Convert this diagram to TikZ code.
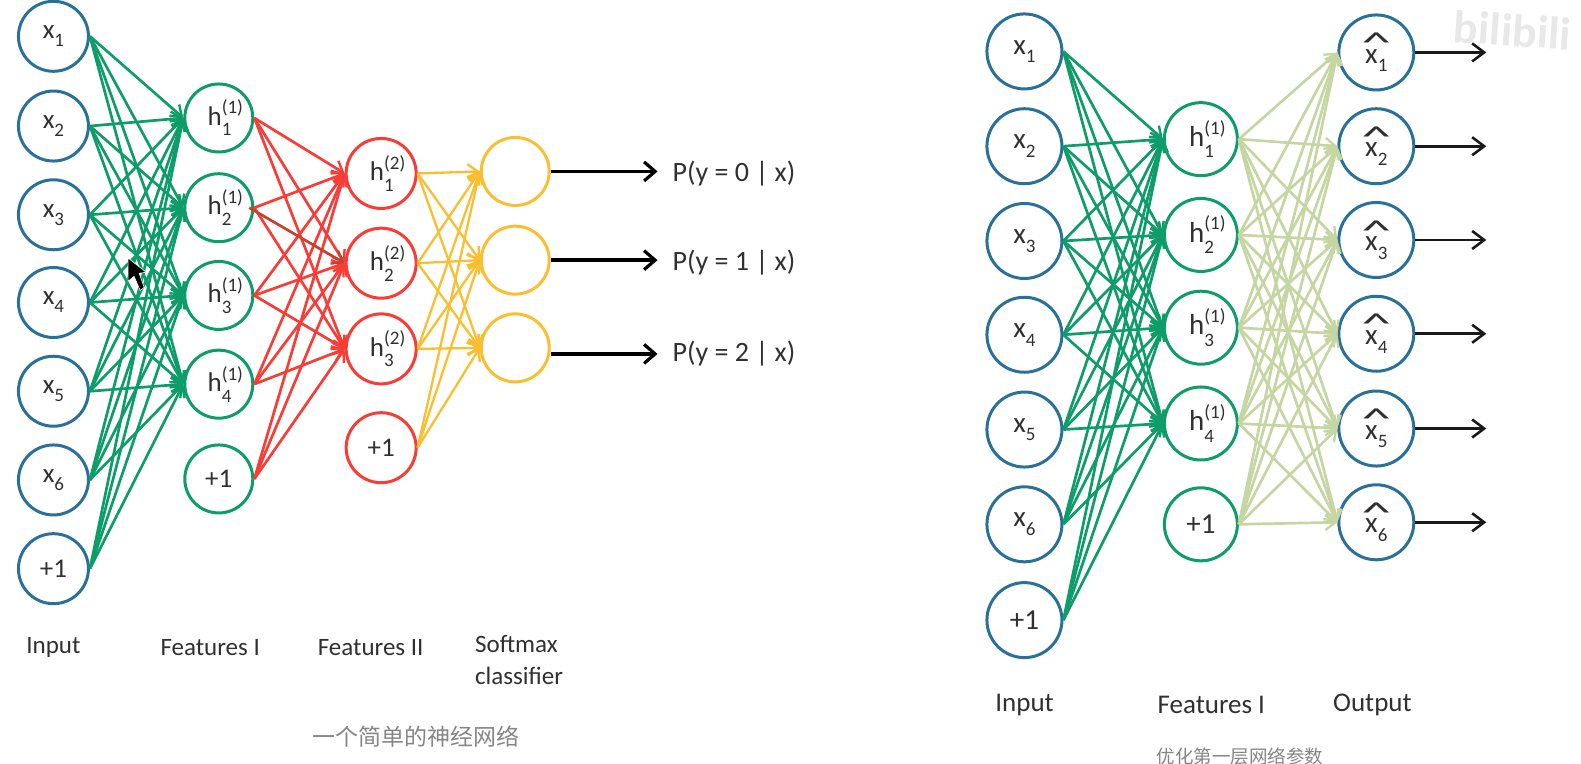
\documentclass[tikz,border=0pt]{standalone}
\usepackage{fontspec}
\usepackage{graphicx}
\setmainfont{Carlito}
\newfontfamily\cjk{Noto Sans CJK SC}
\usetikzlibrary{arrows.meta}
\definecolor{cblue}{HTML}{2A7199}
\definecolor{cgreen}{HTML}{0E9C68}
\definecolor{cred}{HTML}{FA3C36}
\definecolor{cdred}{HTML}{C8402F}
\definecolor{corange}{HTML}{FBBE30}
\definecolor{colive}{HTML}{C6D6A2}
\definecolor{ctext}{HTML}{303030}
\newcommand{\subf}{\fontsize{19}{19}\selectfont}
\newcommand{\xlab}[1]{x\raisebox{-0.3em}{\subf #1}}
\newcommand{\hlab}[2]{\hspace{13pt}h\raisebox{-0.4em}{\rlap{\subf #2}}\raisebox{0.42em}{\subf (#1)}}
\newcommand{\xhlab}[1]{\rlap{\raisebox{0.36em}{\hspace{-0.14em}\scalebox{2.1}[1.0]{\^{}}}}x\raisebox{-0.3em}{\subf #1}}
\tikzset{
  x=1.0083pt,y=-1.0083pt,
  neuron/.style={circle,draw,fill=white,line width=3pt,inner sep=0pt,text=ctext,font=\fontsize{27}{27}\selectfont},
  lnode/.style={neuron,minimum size=68pt},
  lnodeb/.style={neuron,minimum size=70pt},
  rnode/.style={neuron,minimum size=73pt,font=\fontsize{29}{29}\selectfont},
  rnodeb/.style={neuron,minimum size=75pt,font=\fontsize{29}{29}\selectfont},
  edge/.style={line width=2.7pt,-{Straight Barb[length=10pt,width=15pt,line width=2.4pt]}},
  blackarrow/.style={line width=3.8pt,color=black,-{Straight Barb[length=11pt,width=19pt,line width=3.2pt]}},
  thinblack/.style={line width=2.8pt,color=black!90,-{Straight Barb[length=12pt,width=18pt,line width=2.6pt]}},
  leftcap/.style={text=ctext,font=\fontsize{25}{32}\selectfont,anchor=west,inner sep=0pt,align=left},
  rightcap/.style={text=ctext,font=\fontsize{27}{30}\selectfont,anchor=west,inner sep=0pt},
  plabel/.style={text=ctext,font=\fontsize{28}{30}\selectfont,anchor=west,inner sep=0pt},
  note/.style={text=black!48,anchor=west,inner sep=0pt},
}
\begin{document}
\begin{tikzpicture}
\useasboundingbox (0,0) rectangle (1568,757.7);
% watermark
\node[text=black!9,font=\fontsize{46}{46}\selectfont\bfseries,rotate=-4,inner sep=0pt] (wm) at (1500,30) {bilibili};
% ---- left network nodes
\node[lnodeb,draw=cblue] (ax1) at (53,36) {\xlab{1}};
\node[lnodeb,draw=cblue] (ax2) at (53,125) {\xlab{2}};
\node[lnodeb,draw=cblue] (ax3) at (53,213) {\xlab{3}};
\node[lnodeb,draw=cblue] (ax4) at (53,300) {\xlab{4}};
\node[lnodeb,draw=cblue] (ax5) at (53,388) {\xlab{5}};
\node[lnodeb,draw=cblue] (ax6) at (53,476) {\xlab{6}};
\node[lnodeb,draw=cblue] (ax7) at (53,564) {+1};
\node[lnode,draw=cgreen] (ah1) at (217,117) {\hlab{1}{1}};
\node[lnode,draw=cgreen] (ah2) at (217,206) {\hlab{1}{2}};
\node[lnode,draw=cgreen] (ah3) at (217,293) {\hlab{1}{3}};
\node[lnode,draw=cgreen] (ah4) at (217,381) {\hlab{1}{4}};
\node[lnode,draw=cgreen] (ah5) at (217,475) {+1};
\node[lnodeb,draw=cred] (bh1) at (378,172) {\hlab{2}{1}};
\node[lnodeb,draw=cred] (bh2) at (378,261) {\hlab{2}{2}};
\node[lnodeb,draw=cred] (bh3) at (378,346) {\hlab{2}{3}};
\node[lnodeb,draw=cred] (bh4) at (378,444) {+1};
\node[lnode,draw=corange] (s1) at (511,170) {};
\node[lnode,draw=corange] (s2) at (511,258) {};
\node[lnode,draw=corange] (s3) at (511,345) {};
% ---- left connectors
\foreach \a in {1,...,7} \foreach \b in {1,...,4}
  \draw[edge,color=cgreen] (ax\a.east) -- (ah\b.west);
\foreach \a in {1,...,5} \foreach \b in {1,2,3} {
  \ifnum\a\b=22\relax\else
    \draw[edge,color=cred] (ah\a.east) -- (bh\b.west);
  \fi
}
\draw[edge,color=cdred] ([xshift=-5pt]ah2.east) -- (bh2.west);
\foreach \a in {1,...,4} \foreach \b in {1,2,3}
  \draw[edge,color=corange,line width=2.3pt] (bh\a.east) -- (s\b.west);
% ---- left outputs
\node[plabel] (p1) at (667,172) {P(y = 0 | x)};
\node[plabel] (p2) at (667,260) {P(y = 1 | x)};
\node[plabel] (p3) at (667,351) {P(y = 2 | x)};
\draw[blackarrow] (s1.east) -- ([xshift=-15pt]p1.west |- s1.east);
\draw[blackarrow] (s2.east) -- ([xshift=-15pt]p2.west |- s2.east);
\draw[blackarrow] (s3.east |- p3.west) -- ([xshift=-15pt]p3.west);
% ---- left captions
\node[leftcap] (c1) at (26,642) {Input};
\node[leftcap] (c2) at (159,642) {Features I};
\node[leftcap] (c3) at (315,642) {Features II};
\node[leftcap,anchor=north west] (c4) at (471,630) {Softmax\\classifier};
\node[note,font=\cjk\fontsize{23}{25}\selectfont] (n1) at (310,731) {一个简单的神经网络};
% ---- cursor
\fill[black,draw=white,line width=0.6pt] (127,256) -- (127,279) -- (133,274) -- (139,288) -- (143,285) -- (138,271) -- (145,270) -- cycle;
% ---- right network nodes
\node[rnodeb,draw=cblue] (rx1) at (1016,51) {\xlab{1}};
\node[rnodeb,draw=cblue] (rx2) at (1016,145) {\xlab{2}};
\node[rnodeb,draw=cblue] (rx3) at (1016,239) {\xlab{3}};
\node[rnodeb,draw=cblue] (rx4) at (1016,332) {\xlab{4}};
\node[rnodeb,draw=cblue] (rx5) at (1016,426) {\xlab{5}};
\node[rnodeb,draw=cblue] (rx6) at (1016,520) {\xlab{6}};
\node[rnodeb,draw=cblue] (rx7) at (1016,615) {+1};
\node[rnode,draw=cgreen] (rh1) at (1191,138) {\hlab{1}{1}};
\node[rnode,draw=cgreen] (rh2) at (1191,233) {\hlab{1}{2}};
\node[rnode,draw=cgreen] (rh3) at (1191,325) {\hlab{1}{3}};
\node[rnode,draw=cgreen] (rh4) at (1191,420) {\hlab{1}{4}};
\node[rnode,draw=cgreen] (rh5) at (1191,520) {+1};
\node[rnodeb,draw=cblue] (ro1) at (1365,52) {\xhlab{1}};
\node[rnodeb,draw=cblue] (ro2) at (1365,145) {\xhlab{2}};
\node[rnodeb,draw=cblue] (ro3) at (1365,238) {\xhlab{3}};
\node[rnodeb,draw=cblue] (ro4) at (1365,331) {\xhlab{4}};
\node[rnodeb,draw=cblue] (ro5) at (1365,425) {\xhlab{5}};
\node[rnodeb,draw=cblue] (ro6) at (1365,518) {\xhlab{6}};
% ---- right connectors
\foreach \a in {1,...,7} \foreach \b in {1,...,4}
  \draw[edge,color=cgreen] (rx\a.east) -- (rh\b.west);
\foreach \a in {1,...,5} \foreach \b in {1,...,6}
  \draw[edge,color=colive] (rh\a.east) -- (ro\b.west);
\foreach \b in {1,...,6} {
  \coordinate (re\b) at ([xshift=71pt]ro\b.east);
  \draw[thinblack] (ro\b.east) -- (re\b);
}
% ---- right captions
\node[rightcap] (d1) at (987,699) {Input};
\node[rightcap] (d2) at (1148,699) {Features I};
\node[rightcap] (d3) at (1322,699) {Output};
\node[note,font=\cjk\fontsize{18.5}{20}\selectfont] (n2) at (1147,750) {优化第一层网络参数};
\end{tikzpicture}
\end{document}
